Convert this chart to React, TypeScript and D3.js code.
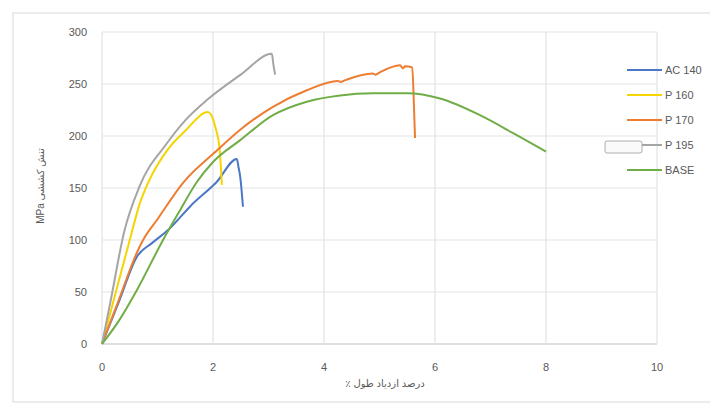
import React from "react"
import { scaleLinear, line, curveMonotoneX } from "d3"

// strain (%) / stress (MPa)
const ac140: [number, number][] = [
  [0, 0], [0.3, 40], [0.63, 84], [0.9, 97], [1.2, 110], [1.6, 133], [2.07, 156],
  [2.43, 178], [2.46, 170], [2.49, 161], [2.54, 132],
]
const p160: [number, number][] = [
  [0, 0], [0.25, 50], [0.5, 100], [0.68, 135], [0.83, 155], [1.17, 186], [1.5, 205],
  [1.91, 223], [2.04, 209], [2.12, 187], [2.16, 153],
]
const p170: [number, number][] = [
  [0, 0], [0.3, 42], [0.63, 88], [0.74, 100], [1.0, 120], [1.46, 155], [2.07, 186],
  [2.49, 206], [3.08, 228], [3.69, 244], [4.25, 253], [4.3, 252], [4.4, 254],
  [4.88, 260], [4.93, 259], [5.0, 261], [5.37, 268], [5.42, 265], [5.46, 267],
  [5.59, 266], [5.62, 230], [5.64, 198],
]
const p195: [number, number][] = [
  [0, 0], [0.15, 40], [0.4, 108], [0.68, 152], [1.17, 193], [1.5, 215], [1.9, 235],
  [2.5, 259], [3.06, 279], [3.09, 268], [3.12, 259],
]
const base: [number, number][] = [
  [0, 0], [0.3, 22], [0.63, 52], [1.1, 100], [1.4, 128], [1.7, 155], [2.0, 175],
  [2.49, 196], [3.08, 220], [3.69, 233], [4.29, 239], [4.88, 241], [5.5, 241],
  [6.09, 236], [6.81, 220], [7.4, 203], [8, 185],
]

const seriesNames = ["AC 140", "P 160", "P 170", "P 195", "BASE"]
const seriesData = [ac140, p160, p170, p195, base]
const colors = ["#4a78c6", "#f5d400", "#ed7d31", "#a5a5a5", "#70ad47"]

const xTicks = [0, 2, 4, 6, 8, 10]
const yTicks = [0, 50, 100, 150, 200, 250, 300]

export default function App() {
  const W = 710
  const H = 405
  const left = 102
  const right = 657
  const top = 32
  const bottom = 344

  const x = scaleLinear().domain([0, 10]).range([left, right])
  const y = scaleLinear().domain([0, 300]).range([bottom, top])
  const path = line<[number, number]>()
    .x(d => x(d[0]))
    .y(d => y(d[1]))
    .curve(curveMonotoneX)

  const font = "'Liberation Sans', 'DejaVu Sans', sans-serif"

  return (
    <svg
      width={W}
      height={H}
      style={{ position: "absolute", left: 0, top: 0, background: "#fff" }}
      fontFamily={font}
    >
      <rect x={13} y={13} width={720} height={389} fill="#fff" stroke="#d9d9d9" />

      {/* grid */}
      {yTicks.map(t => (
        <line key={"gy" + t} x1={left} x2={right} y1={y(t)} y2={y(t)}
          stroke={t === 0 ? "#bfbfbf" : "#e3e3e3"} strokeWidth={1.2} />
      ))}
      {xTicks.map(t => (
        <line key={"gx" + t} x1={x(t)} x2={x(t)} y1={top} y2={bottom}
          stroke="#e3e3e3" strokeWidth={1.2} />
      ))}

      {/* tick labels */}
      {yTicks.map(t => (
        <text key={"ly" + t} x={87} y={y(t) + 4} textAnchor="end" fontSize={11} fill="#595959">
          {t}
        </text>
      ))}
      {xTicks.map(t => (
        <text key={"lx" + t} x={x(t)} y={371} textAnchor="middle" fontSize={11} fill="#595959">
          {t}
        </text>
      ))}

      {/* axis titles */}
      <text x={385} y={387} textAnchor="middle" fontSize={10} fill="#595959" direction="rtl">
        درصد ازدیاد طول ٪
      </text>
      <text transform="translate(44,186) rotate(-90)" textAnchor="middle" fontSize={10} fill="#595959">
        MPa تنش کششی
      </text>

      {/* series */}
      {seriesData.map((d, i) => (
        <path key={seriesNames[i]} d={path(d) || ""} fill="none" stroke={colors[i]}
          strokeWidth={2} strokeLinejoin="round" />
      ))}

      {/* legend */}
      {seriesNames.map((n, i) => {
        const ly = 70 + i * 25
        return (
          <g key={"lg" + n}>
            <line x1={i === 3 ? 642 : 627} x2={662} y1={ly} y2={ly} stroke={colors[i]} strokeWidth={2} />
            <text x={665} y={ly + 4} fontSize={11} fill="#595959">{n}</text>
          </g>
        )
      })}
      <rect x={605} y={141} width={37} height={12} rx={2} fill="#fafafa" stroke="#9a9a9a" strokeWidth={0.8} />
    </svg>
  )
}
